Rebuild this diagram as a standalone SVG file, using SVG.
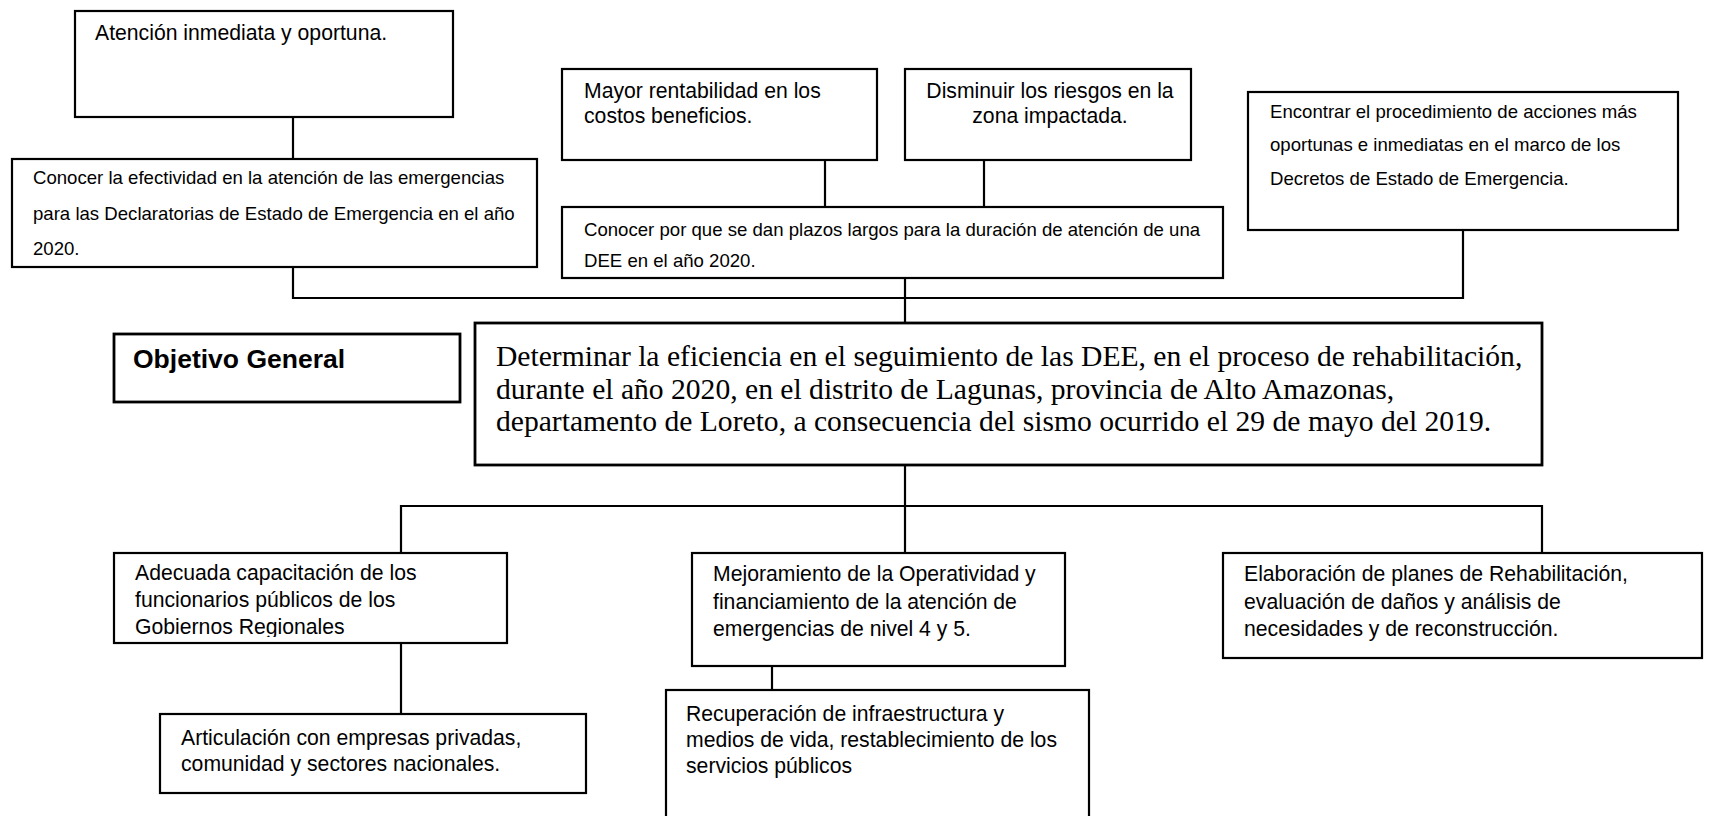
<svg xmlns="http://www.w3.org/2000/svg" width="1709" height="816" viewBox="0 0 1709 816">
<style>
.box{fill:#fff;stroke:#000;stroke-width:2.2}
.thick{stroke-width:2.8}
.t{font-family:"Liberation Sans",Arial,sans-serif;font-size:21.2px;fill:#000}
.s{font-family:"Liberation Sans",Arial,sans-serif;font-size:18.6px;fill:#000}
.b{font-family:"Liberation Sans",Arial,sans-serif;font-size:26.5px;font-weight:bold;fill:#000}
.m{font-family:"Liberation Serif","Times New Roman",serif;font-size:29.6px;fill:#000}
.c{fill:none;stroke:#000;stroke-width:2.2}
</style>
<defs>
<clipPath id="clipH"><rect x="114" y="553" width="393" height="84"/></clipPath>
</defs>
<g id="connectors">
<path class="c" d="M293 117V159"/>
<path class="c" d="M293 267V298H1463V230"/>
<path class="c" d="M825 160V207"/>
<path class="c" d="M984 160V207"/>
<path class="c" d="M905 278V323"/>
<path class="c" d="M905 465V553"/>
<path class="c" d="M401 553V506H1542V553"/>
<path class="c" d="M401 643V714"/>
<path class="c" d="M772 666V690"/>
</g>
<g id="nA"><rect class="box" x="75" y="11" width="378" height="106"/>
<text class="t" x="95" y="40">Atención inmediata y oportuna.</text></g>
<g id="nB"><rect class="box" x="12" y="159" width="525" height="108"/>
<text class="s" x="33" y="184">Conocer la efectividad en la atención de las emergencias</text>
<text class="s" x="33" y="220">para las Declaratorias de Estado de Emergencia en el año</text>
<text class="s" x="33" y="255">2020.</text></g>
<g id="nC"><rect class="box" x="562" y="69" width="315" height="91"/>
<text class="t" x="584" y="98">Mayor rentabilidad en los</text>
<text class="t" x="584" y="123">costos beneficios.</text></g>
<g id="nD"><rect class="box" x="905" y="69" width="286" height="91"/>
<text class="t" x="1050" y="98" text-anchor="middle">Disminuir los riesgos en la</text>
<text class="t" x="1050" y="123" text-anchor="middle">zona impactada.</text></g>
<g id="nE"><rect class="box" x="562" y="207" width="661" height="71"/>
<text class="s" x="584" y="236">Conocer por que se dan plazos largos para la duración de atención de una</text>
<text class="s" x="584" y="267">DEE en el año 2020.</text></g>
<g id="nG"><rect class="box" x="1248" y="92" width="430" height="138"/>
<text class="s" x="1270" y="118">Encontrar el procedimiento de acciones más</text>
<text class="s" x="1270" y="151">oportunas e inmediatas en el marco de los</text>
<text class="s" x="1270" y="185">Decretos de Estado de Emergencia.</text></g>
<g id="nObj"><rect class="box thick" x="114" y="334" width="346" height="68"/>
<text class="b" x="133" y="368">Objetivo General</text></g>
<g id="nF"><rect class="box thick" x="475" y="323" width="1067" height="142"/>
<text class="m" x="496" y="366">Determinar la eficiencia en el seguimiento de las DEE, en el proceso de rehabilitación,</text>
<text class="m" x="496" y="399">durante el año 2020, en el distrito de Lagunas, provincia de Alto Amazonas,</text>
<text class="m" x="496" y="431">departamento de Loreto, a consecuencia del sismo ocurrido el 29 de mayo del 2019.</text></g>
<g id="nH"><rect class="box" x="114" y="553" width="393" height="90"/>
<g clip-path="url(#clipH)">
<text class="t" x="135" y="580">Adecuada capacitación de los</text>
<text class="t" x="135" y="607">funcionarios públicos de los</text>
<text class="t" x="135" y="634">Gobiernos Regionales</text></g>
</g>
<g id="nI"><rect class="box" x="160" y="714" width="426" height="79"/>
<text class="t" x="181" y="745">Articulación con empresas privadas,</text>
<text class="t" x="181" y="771">comunidad y sectores nacionales.</text></g>
<g id="nJ"><rect class="box" x="692" y="553" width="373" height="113"/>
<text class="t" x="713" y="581">Mejoramiento de la Operatividad y</text>
<text class="t" x="713" y="609">financiamiento de la atención de</text>
<text class="t" x="713" y="636">emergencias de nivel 4 y 5.</text></g>
<g id="nK"><rect class="box" x="1223" y="553" width="479" height="105"/>
<text class="t" x="1244" y="581">Elaboración de planes de Rehabilitación,</text>
<text class="t" x="1244" y="609">evaluación de daños y análisis de</text>
<text class="t" x="1244" y="636">necesidades y de reconstrucción.</text></g>
<g id="nL"><rect class="box" x="666" y="690" width="423" height="140"/>
<text class="t" x="686" y="721">Recuperación de infraestructura y</text>
<text class="t" x="686" y="747">medios de vida, restablecimiento de los</text>
<text class="t" x="686" y="773">servicios públicos</text></g>
</svg>
